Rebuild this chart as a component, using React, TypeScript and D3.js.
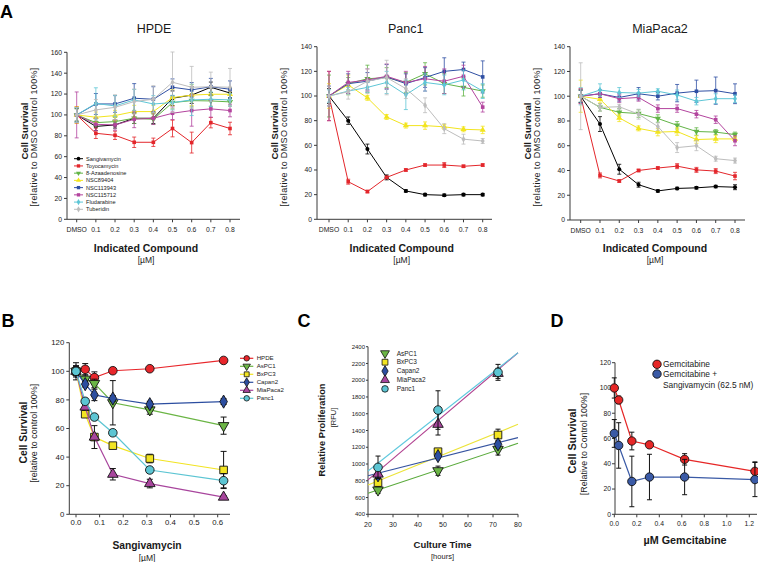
import React from 'react';
import * as d3 from 'd3';

const FONT = '"Liberation Sans", Arial, Helvetica, sans-serif';
const AXIS = '#3a3a3a';

// ---------- Panel A data ----------
const doseLabels = ['DMSO', '0.1', '0.2', '0.3', '0.4', '0.5', '0.6', '0.7', '0.8'];
const compoundNames = ['Sangivamycin', 'Toyocamycin', '8-Azaadenosine', 'NSC89404', 'NSC113943', 'NSC115712', 'Fludarabine', 'Tuberidin'];
const compoundColors = ['#000000', '#e3262b', '#62b446', '#f2e41e', '#2f4fa3', '#b3449e', '#5ec6d6', '#bdbdbd'];
const compoundShapes = ['circle', 'square', 'triDown', 'triUp', 'square', 'square', 'diamond', 'diamond'];

const hpdeMeans = [
  [100, 89, 90.4, 96.8, 96.8, 116, 119, 126.5, 121],
  [100, 82.4, 80.5, 73.8, 73.8, 87, 73.5, 92.6, 87],
  [100, 92.6, 93.6, 96.8, 95.8, 111.8, 113.7, 113.4, 112.5],
  [100, 97.8, 99.4, 103.2, 103.2, 116.6, 119, 119.8, 119.8],
  [100, 110.5, 110.5, 116, 115, 126.5, 124, 127, 124.6],
  [100, 91, 90.4, 95.8, 96.8, 101.6, 104.2, 105.8, 104.2],
  [100, 111, 108.6, 114.4, 110.5, 111.8, 114.4, 115, 114.4],
  [100, 104.8, 107.3, 112.8, 115, 131.3, 126.5, 127, 126.5],
];
const hpdeErrs = [
  [6, 4, 3, 5, 5, 7, 8, 5, 5],
  [8, 5, 4, 5, 4, 8, 10, 5, 6],
  [6, 4, 4, 5, 5, 6, 6, 5, 4],
  [8, 5, 5, 6, 6, 8, 10, 6, 6],
  [7, 10, 8, 14, 12, 8, 7, 8, 8],
  [22, 6, 5, 8, 6, 6, 15, 8, 6],
  [7, 15, 10, 10, 8, 7, 15, 7, 6],
  [7, 10, 12, 12, 13, 29, 20, 14, 18],
];
const panc1Means = [
  [100, 80, 57, 34, 23, 20, 19.5, 20, 20],
  [100, 30.5, 22.5, 34, 40, 44, 44, 43, 44],
  [100, 110, 114, 115, 111, 118, 110, 107, 104],
  [100, 109, 98.5, 83, 76, 76, 75, 73, 72.5],
  [100, 110, 112, 115.5, 110, 115, 120, 121.5, 115.5],
  [100, 111, 113, 116, 111, 114, 112, 116, 91],
  [100, 104, 107, 111, 101, 111, 109, 113, 104],
  [100, 103.5, 112, 115, 106, 92.5, 73.5, 65, 63.5],
];
const panc1Errs = [
  [6, 3, 4, 2, 1, 1, 1, 1, 1],
  [20, 2, 1, 1, 1, 1, 2, 1, 1],
  [17, 5, 11, 8, 8, 9, 8, 7, 5],
  [10, 8, 2, 2, 2, 3, 2, 2, 3],
  [8, 8, 7, 10, 8, 8, 11, 6, 13],
  [20, 9, 9, 10, 9, 10, 10, 9, 4],
  [5, 3, 4, 9, 12, 7, 8, 8, 6],
  [8, 6, 10, 14, 8, 6, 4, 4, 2],
];
const miaMeans = [
  [100, 77.5, 41, 28.5, 23.5, 25.5, 26, 27, 26.5],
  [100, 36, 31.5, 40, 42, 43.5, 40.5, 39.5, 35.5],
  [100, 91, 87, 86, 82, 76.5, 71.5, 71, 69],
  [100, 97.5, 82.5, 74, 71, 71.5, 65, 65.5, 65.5],
  [100, 102, 99, 102, 100, 102.5, 104, 104.5, 102],
  [100, 102, 98, 99, 90, 90, 85.5, 81, 64],
  [100, 105, 103, 102.5, 104, 101, 96, 98, 98],
  [100, 91, 91.5, 85.5, 75.5, 58.5, 60, 49.5, 48],
];
const miaErrs = [
  [5, 6, 4, 2, 1, 1, 1, 1, 2],
  [6, 2, 1, 1, 1, 2, 2, 2, 3],
  [5, 3, 3, 3, 3, 3, 3, 2, 2],
  [13, 3, 3, 2, 3, 3, 3, 3, 2],
  [5, 3, 3, 5, 3, 7, 9, 11, 8],
  [6, 3, 3, 3, 3, 3, 3, 3, 4],
  [7, 5, 4, 3, 2, 4, 3, 4, 3],
  [27, 3, 2, 4, 3, 4, 4, 2, 2],
];

// ---------- Panel B data ----------
const sangiDoses = [0, 0.039, 0.078, 0.156, 0.3125, 0.625];
const cellLinesB = ['HPDE', 'AsPC1', 'BxPC3', 'Capan2', 'MiaPaca2', 'Panc1'];
const cellColorsB = ['#e8262b', '#6bb545', '#f2e422', '#2c4ea0', '#a8459d', '#5cc5d3'];
const cellShapesB = ['circle', 'triDown', 'square', 'diamond', 'triUp', 'circle'];
const bMeans = [
  [100, 101.4, 95.6, 100.4, 101.8, 107.6],
  [100, 94.5, 91.5, 78, 73, 62],
  [100, 70, 54, 48, 39, 31],
  [100, 91, 83.5, 81, 77, 78.8],
  [100, 75, 54, 28, 21.5, 12],
  [100, 79, 68, 57, 31, 23.5],
];
const bErrs = [
  [6, 4, 4, 2, 1, 1],
  [3, 3, 3, 15.5, 3, 6],
  [3, 2, 2, 2, 3, 13],
  [4, 2, 4, 2, 2, 2],
  [3, 2, 8, 4, 3, 1],
  [3, 2, 2, 2, 2, 5],
];

// ---------- Panel C data ----------
const cultureHours = [24, 48, 72];
const cellLinesC = ['AsPC1', 'BxPC3', 'Capan2', 'MiaPaca2', 'Panc1'];
const cellColorsC = ['#6bb545', '#f2e422', '#2c4ea0', '#a8459d', '#5cc5d3'];
const lineColorsC = ['#5aaa3c', '#ece43a', '#3654a0', '#b0408f', '#5ec8dd'];
const cellShapesC = ['triDown', 'square', 'diamond', 'triUp', 'circle'];
const cMeans = [
  [690, 920, 1175],
  [778, 1147, 1346],
  [865, 1095, 1235],
  [880, 1474, 2082],
  [960, 1644, 2094],
];
const cErrs = [
  [40, 55, 68],
  [40, 30, 70],
  [40, 30, 40],
  [50, 128, 60],
  [135, 230, 95],
];
const fitHours = [20, 80];
const fitValues = [
  [650, 1247],
  [750, 1474],
  [860, 1315],
  [810, 2328],
  [917, 2328],
];

// ---------- Panel D data ----------
const gemDoses = [0, 0.039, 0.156, 0.3125, 0.625, 1.25];
const gemSeries = ['Gemcitabine', 'Gemcitabine + Sangivamycin (62.5 nM)'];
const gemColors = ['#e62727', '#3a5aa6'];
const gemMeans = [100, 90.5, 58, 55, 43.5, 34];
const gemErrs = [8, 3, 7, 2, 4.5, 7.5];
const comboMeans = [64, 54.5, 26, 29.5, 29.5, 27.5];
const comboErrs = [11, 18, 20, 18, 14, 13.5];

// ---------- helpers ----------
function symPath(shape: string, size: number): string {
  const t = shape === 'circle' ? d3.symbolCircle
    : shape === 'square' ? d3.symbolSquare
    : shape === 'diamond' ? d3.symbolDiamond
    : d3.symbolTriangle;
  return d3.symbol().type(t).size(size)() as string;
}

function Marker({ x, y, shape, size, fill, stroke, sw }: any) {
  const rot = shape === 'triDown' ? ' rotate(180)' : '';
  return <path d={symPath(shape, size)} transform={`translate(${x},${y})${rot}`} fill={fill} stroke={stroke} strokeWidth={sw} />;
}

function ErrBar({ x, y0, y1, cap, color, sw = 0.9 }: any) {
  return (
    <g stroke={color} strokeWidth={sw}>
      <line x1={x} x2={x} y1={y0} y2={y1} />
      <line x1={x - cap} x2={x + cap} y1={y0} y2={y0} />
      <line x1={x - cap} x2={x + cap} y1={y1} y2={y1} />
    </g>
  );
}

function VText({ x, y, size, bold, ls, children }: any) {
  return (
    <text transform={`translate(${x},${y}) rotate(-90)`} textAnchor="middle" fontSize={size} fontWeight={bold ? 'bold' : 'normal'} letterSpacing={ls || 0} fill="#1a1a1a">{children}</text>
  );
}

// ---------- Panel A ----------
const panelALayout = [
  { title: 'HPDE', means: hpdeMeans, errs: hpdeErrs, yMax: 160, axisX: 67, x0: 76.7, x1: 230, right: 240, yTop: 52.3, yBot: 219.3, titleX: 154, xTitleX: 146, legend: true },
  { title: 'Panc1', means: panc1Means, errs: panc1Errs, yMax: 140, axisX: 317, x0: 329, x1: 482.7, right: 492, yTop: 46.7, yBot: 219.3, titleX: 405.7, xTitleX: 401.7, legend: false },
  { title: 'MiaPaca2', means: miaMeans, errs: miaErrs, yMax: 140, axisX: 570, x0: 580.7, x1: 735, right: 745, yTop: 46.7, yBot: 220, titleX: 660, xTitleX: 655, legend: false },
];

function PanelA({ L }: any) {
  const x = d3.scalePoint<string>().domain(doseLabels).range([L.x0, L.x1]);
  const y = d3.scaleLinear().domain([0, L.yMax]).range([L.yBot, L.yTop]);
  const yTicks = d3.range(0, L.yMax + 1, 20);
  const line = d3.line<number>().x((_, i) => x(doseLabels[i]) as number).y(d => y(d));
  return (
    <g>
      <text x={L.titleX} y={33} textAnchor="middle" fontSize={12.5} fill="#1a1a1a">{L.title}</text>
      <line x1={L.axisX} x2={L.axisX} y1={y(0)} y2={y(L.yMax)} stroke={AXIS} strokeWidth={1} />
      <line x1={L.axisX} x2={L.right} y1={y(0)} y2={y(0)} stroke={AXIS} strokeWidth={1} />
      {yTicks.map(t => (
        <g key={t}>
          <line x1={L.axisX - 3} x2={L.axisX} y1={y(t)} y2={y(t)} stroke={AXIS} />
          <text x={L.axisX - 5} y={y(t)} dy="0.35em" textAnchor="end" fontSize={6.8} fill="#1a1a1a">{t}</text>
        </g>
      ))}
      {doseLabels.map(d => (
        <g key={d}>
          <line x1={x(d)} x2={x(d)} y1={y(0)} y2={y(0) + 3} stroke={AXIS} />
          <text x={x(d)} y={y(0) + 12.5} textAnchor="middle" fontSize={6.8} fill="#1a1a1a">{d}</text>
        </g>
      ))}
      <text x={L.xTitleX} y={251.5} textAnchor="middle" fontSize={10.5} fontWeight="bold" fill="#1a1a1a">Indicated Compound</text>
      <text x={L.xTitleX} y={263} textAnchor="middle" fontSize={8.5} fill="#1a1a1a">[µM]</text>
      <VText x={L.axisX - 39} y={131} size={9.5} bold>Cell Survival</VText>
      <VText x={L.axisX - 30.5} y={137} size={9} ls={0.35}>[relative to DMSO control 100%]</VText>
      {L.means.map((vals: number[], si: number) => (
        <g key={si}>
          {vals.map((v, i) => (
            <ErrBar key={i} x={x(doseLabels[i])} y0={y(v + L.errs[si][i])} y1={y(v - L.errs[si][i])} cap={2} color={compoundColors[si]} sw={0.8} />
          ))}
          <path d={line(vals) as string} fill="none" stroke={compoundColors[si]} strokeWidth={1} />
          {vals.map((v, i) => (
            <Marker key={i} x={x(doseLabels[i])} y={y(v)} shape={compoundShapes[si]} size={compoundShapes[si].startsWith('tri') ? 16 : 13} fill={compoundColors[si]} stroke="none" />
          ))}
        </g>
      ))}
      {L.legend && compoundNames.map((n, i) => {
        const ly = 158.7 + i * 7.23;
        return (
          <g key={n}>
            <line x1={74} x2={83} y1={ly} y2={ly} stroke={compoundColors[i]} strokeWidth={1} />
            <Marker x={78.5} y={ly} shape={compoundShapes[i]} size={11} fill={compoundColors[i]} stroke="none" />
            <text x={86} y={ly} dy="0.35em" fontSize={5.6} fill="#1a1a1a">{n}</text>
          </g>
        );
      })}
    </g>
  );
}

// ---------- Panel B ----------
function PanelB() {
  const x = d3.scaleLinear().domain([0, 0.6]).range([76, 217.7]);
  const y = d3.scaleLinear().domain([0, 120]).range([514.3, 342.7]);
  const ax = 69.3;
  const line = d3.line<number>().x((_, i) => x(sangiDoses[i])).y(d => y(d));
  return (
    <g>
      <text x={1.5} y={326.5} fontSize={18} fontWeight="bold" fill="#000">B</text>
      <line x1={ax} x2={ax} y1={y(0)} y2={y(120)} stroke={AXIS} />
      <line x1={ax} x2={230} y1={y(0)} y2={y(0)} stroke={AXIS} />
      {d3.range(0, 121, 20).map(t => (
        <g key={t}>
          <line x1={ax - 3} x2={ax} y1={y(t)} y2={y(t)} stroke={AXIS} />
          <text x={ax - 5} y={y(t)} dy="0.35em" textAnchor="end" fontSize={7.8} fill="#1a1a1a">{t}</text>
        </g>
      ))}
      {d3.range(0, 0.61, 0.1).map(t => (
        <g key={t}>
          <line x1={x(t)} x2={x(t)} y1={y(0)} y2={y(0) + 3} stroke={AXIS} />
          <text x={x(t)} y={y(0) + 10.5} textAnchor="middle" fontSize={7.8} fill="#1a1a1a">{d3.format('.1f')(t)}</text>
        </g>
      ))}
      <text x={147} y={548.5} textAnchor="middle" fontSize={10.3} fontWeight="bold" fill="#1a1a1a">Sangivamycin</text>
      <text x={147} y={560.5} textAnchor="middle" fontSize={8.5} fill="#1a1a1a">[µM]</text>
      <VText x={26.5} y={432.5} size={10.3} bold>Cell Survival</VText>
      <VText x={37} y={433.3} size={9}>[relative to control 100%]</VText>
      {bMeans.map((vals, si) => (
        <g key={si}>
          <path d={line(vals) as string} fill="none" stroke={cellColorsB[si]} strokeWidth={1.2} />
          {vals.map((v, i) => (
            <ErrBar key={i} x={x(sangiDoses[i])} y0={y(v + bErrs[si][i])} y1={y(v - bErrs[si][i])} cap={3} color="#111" sw={1} />
          ))}
          {vals.map((v, i) => (
            <Marker key={i} x={x(sangiDoses[i])} y={y(v)} shape={cellShapesB[si]} size={cellShapesB[si].startsWith('tri') ? 48 : cellShapesB[si] === 'diamond' ? 50 : 58} fill={cellColorsB[si]} stroke="#111" sw={0.9} />
          ))}
        </g>
      ))}
      {cellLinesB.map((n, i) => {
        const ly = 358.3 + i * 8;
        return (
          <g key={n}>
            <line x1={240} x2={253.3} y1={ly} y2={ly} stroke={cellColorsB[i]} strokeWidth={1.2} />
            <Marker x={246.7} y={ly} shape={cellShapesB[i]} size={24} fill={cellColorsB[i]} stroke="#111" sw={0.8} />
            <text x={256.7} y={ly} dy="0.35em" fontSize={6.1} fill="#1a1a1a">{n}</text>
          </g>
        );
      })}
    </g>
  );
}

// ---------- Panel C ----------
function PanelC() {
  const x = d3.scaleLinear().domain([20, 80]).range([368, 518]);
  const y = d3.scaleLinear().domain([400, 2400]).range([514.3, 346.7]);
  const ax = 368;
  return (
    <g>
      <text x={297.5} y={327} fontSize={18} fontWeight="bold" fill="#000">C</text>
      <line x1={ax} x2={ax} y1={y(400)} y2={y(2400)} stroke={AXIS} />
      <line x1={ax} x2={518} y1={y(400)} y2={y(400)} stroke={AXIS} />
      {d3.range(400, 2401, 200).map(t => (
        <g key={t}>
          <line x1={ax - 2} x2={ax} y1={y(t)} y2={y(t)} stroke={AXIS} />
          <text x={ax - 3} y={y(t)} dy="0.35em" textAnchor="end" fontSize={6} fill="#1a1a1a">{t}</text>
        </g>
      ))}
      {d3.range(20, 81, 10).map(t => (
        <g key={t}>
          <line x1={x(t)} x2={x(t)} y1={y(400)} y2={y(400) + 3} stroke={AXIS} />
          <text x={x(t)} y={y(400) + 13} textAnchor="middle" fontSize={7} fill="#1a1a1a">{t}</text>
        </g>
      ))}
      <text x={442.5} y={548} textAnchor="middle" fontSize={9.5} fontWeight="bold" fill="#1a1a1a">Culture Time</text>
      <text x={442.5} y={558.5} textAnchor="middle" fontSize={7.5} fill="#1a1a1a">[hours]</text>
      <VText x={324.5} y={430} size={9.3} bold>Relative Proliferation</VText>
      <VText x={336} y={417.5} size={7.5}>[RFU]</VText>
      {fitValues.map((f, si) => (
        <line key={si} x1={x(fitHours[0])} x2={x(fitHours[1])} y1={y(f[0])} y2={y(f[1])} stroke={lineColorsC[si]} strokeWidth={1.1} />
      ))}
      {cMeans.map((vals, si) => (
        <g key={si}>
          {vals.map((v, i) => (
            <ErrBar key={i} x={x(cultureHours[i])} y0={y(v + cErrs[si][i])} y1={y(v - cErrs[si][i])} cap={2.5} color="#111" sw={1} />
          ))}
          {vals.map((v, i) => (
            <Marker key={i} x={x(cultureHours[i])} y={y(v)} shape={cellShapesC[si]} size={cellShapesC[si].startsWith('tri') ? 48 : cellShapesC[si] === 'diamond' ? 50 : 58} fill={cellColorsC[si]} stroke="#111" sw={0.9} />
          ))}
        </g>
      ))}
      {cellLinesC.map((n, i) => {
        const ly = 353.3 + i * 8.9;
        return (
          <g key={n}>
            <Marker x={385} y={ly} shape={cellShapesC[i]} size={34} fill={cellColorsC[i]} stroke="#111" sw={0.8} />
            <text x={396.7} y={ly} dy="0.35em" fontSize={6.5} fill="#1a1a1a">{n}</text>
          </g>
        );
      })}
    </g>
  );
}

// ---------- Panel D ----------
function PanelD() {
  const x = d3.scaleLinear().domain([0, 1.2]).range([614.3, 749.3]);
  const y = d3.scaleLinear().domain([0, 120]).range([514.3, 362.7]);
  const ax = 615;
  const line = d3.line<number>().x((_, i) => x(gemDoses[i])).y(d => y(d));
  const series = [
    { means: gemMeans, errs: gemErrs, color: gemColors[0] },
    { means: comboMeans, errs: comboErrs, color: gemColors[1] },
  ];
  return (
    <g>
      <text x={550.5} y={327} fontSize={18} fontWeight="bold" fill="#000">D</text>
      <line x1={ax} x2={ax} y1={y(0)} y2={y(120)} stroke={AXIS} />
      <line x1={ax} x2={757} y1={y(0)} y2={y(0)} stroke={AXIS} />
      {d3.range(0, 121, 20).map(t => (
        <g key={t}>
          <line x1={ax - 3} x2={ax} y1={y(t)} y2={y(t)} stroke={AXIS} />
          <text x={ax - 4} y={y(t)} dy="0.35em" textAnchor="end" fontSize={6.8} fill="#1a1a1a">{t}</text>
        </g>
      ))}
      {d3.range(0, 1.21, 0.2).map(t => (
        <g key={t}>
          <line x1={x(t)} x2={x(t)} y1={y(0)} y2={y(0) + 3} stroke={AXIS} />
          <text x={x(t)} y={y(0) + 12} textAnchor="middle" fontSize={6.8} fill="#1a1a1a">{d3.format('.1f')(t)}</text>
        </g>
      ))}
      <text x={685} y={544} textAnchor="middle" fontSize={10.8} fontWeight="bold" fill="#1a1a1a">µM Gemcitabine</text>
      <VText x={576} y={441} size={10.8} bold>Cell Survival</VText>
      <VText x={586.5} y={444} size={8.8}>[Relative to Control 100%]</VText>
      {series.map((s, si) => (
        <g key={si}>
          <path d={line(s.means) as string} fill="none" stroke={s.color} strokeWidth={1.2} />
          {s.means.map((v, i) => (
            <ErrBar key={i} x={x(gemDoses[i])} y0={y(v + s.errs[i])} y1={y(v - s.errs[i])} cap={2.5} color="#111" sw={1} />
          ))}
          {s.means.map((v, i) => (
            <circle key={i} cx={x(gemDoses[i])} cy={y(v)} r={4.2} fill={s.color} stroke="#111" strokeWidth={0.9} />
          ))}
        </g>
      ))}
      <circle cx={657} cy={364.3} r={4.2} fill={gemColors[0]} stroke="#111" strokeWidth={0.9} />
      <text x={663} y={364.3} dy="0.35em" fontSize={8.4} fill="#1a1a1a">{gemSeries[0]}</text>
      <circle cx={657} cy={374} r={4.2} fill={gemColors[1]} stroke="#111" strokeWidth={0.9} />
      <text x={663} y={374} dy="0.35em" fontSize={8.4} fill="#1a1a1a">Gemcitabine +</text>
      <text x={663} y={385.5} dy="0.35em" fontSize={8.4} fill="#1a1a1a">Sangivamycin (62.5 nM)</text>
    </g>
  );
}

export default function App() {
  return (
    <svg width={758} height={562} style={{ position: 'absolute', left: 0, top: 0, background: '#fff' }} fontFamily={FONT}>
      <rect width={758} height={562} fill="#fff" />
      <text x={0} y={18} fontSize={18} fontWeight="bold" fill="#000">A</text>
      {panelALayout.map(L => <PanelA key={L.title} L={L} />)}
      <PanelB />
      <PanelC />
      <PanelD />
    </svg>
  );
}
